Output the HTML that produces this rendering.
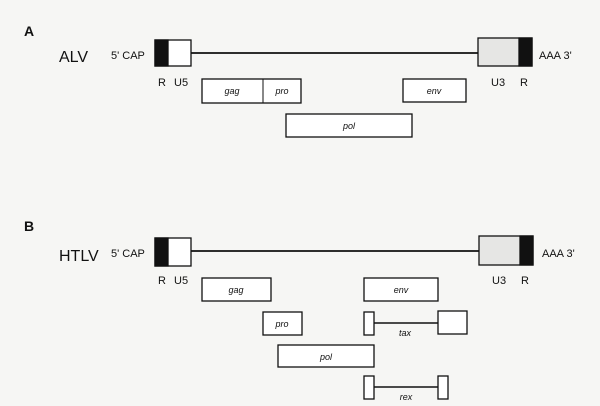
<!DOCTYPE html>
<html><head><style>
html,body{margin:0;padding:0;background:#f6f6f4;}
svg{display:block;font-family:"Liberation Sans",Arial,sans-serif;}
</style></head><body>
<svg width="600" height="406" viewBox="0 0 600 406" xmlns="http://www.w3.org/2000/svg">
<rect width="600" height="406" fill="#f6f6f4"/>
<g stroke="#111" stroke-width="1.3" fill="#fff">
<!-- A -->
<line x1="191" y1="53" x2="478" y2="53" stroke-width="1.8"/>
<rect x="155" y="40" width="36" height="26"/>
<rect x="155" y="40" width="13" height="26" fill="#111"/>
<rect x="478" y="38" width="54" height="28" fill="#e6e6e4"/>
<rect x="519" y="38" width="13" height="28" fill="#111"/>
<rect x="202" y="79" width="99" height="24"/>
<line x1="263" y1="79" x2="263" y2="103" stroke-width="1"/>
<rect x="403" y="79" width="63" height="23"/>
<rect x="286" y="114" width="126" height="23"/>
<!-- B -->
<line x1="191" y1="251" x2="479" y2="251" stroke-width="1.8"/>
<rect x="155" y="238" width="36" height="28"/>
<rect x="155" y="238" width="13" height="28" fill="#111"/>
<rect x="479" y="236" width="54" height="29" fill="#e6e6e4"/>
<rect x="520" y="236" width="13" height="29" fill="#111"/>
<rect x="202" y="278" width="69" height="23"/>
<rect x="364" y="278" width="74" height="23"/>
<rect x="263" y="312" width="39" height="23"/>
<line x1="374" y1="323" x2="438" y2="323" stroke-width="1.6"/>
<rect x="364" y="312" width="10" height="23"/>
<rect x="438" y="311" width="29" height="23"/>
<rect x="278" y="345" width="96" height="22"/>
<line x1="374" y1="387" x2="438" y2="387" stroke-width="1.6"/>
<rect x="364" y="376" width="10" height="23"/>
<rect x="438" y="376" width="10" height="23"/>
</g>
<g fill="#111">
<text x="24" y="36" font-size="14" font-weight="bold">A</text>
<text x="59" y="62" font-size="16">ALV</text>
<text x="111" y="59" font-size="11">5' CAP</text>
<text x="539" y="59" font-size="11">AAA 3'</text>
<text x="158" y="86" font-size="11">R</text>
<text x="174" y="86" font-size="11">U5</text>
<text x="491" y="86" font-size="11">U3</text>
<text x="520" y="86" font-size="11">R</text>
<g font-style="italic" font-size="9" text-anchor="middle">
<text x="232" y="94">gag</text>
<text x="282" y="94">pro</text>
<text x="434" y="94">env</text>
<text x="349" y="129">pol</text>
</g>
<text x="24" y="231" font-size="14" font-weight="bold">B</text>
<text x="59" y="261" font-size="16">HTLV</text>
<text x="111" y="257" font-size="11">5' CAP</text>
<text x="542" y="257" font-size="11">AAA 3'</text>
<text x="158" y="284" font-size="11">R</text>
<text x="174" y="284" font-size="11">U5</text>
<text x="492" y="284" font-size="11">U3</text>
<text x="521" y="284" font-size="11">R</text>
<g font-style="italic" font-size="9" text-anchor="middle">
<text x="236" y="293">gag</text>
<text x="401" y="293">env</text>
<text x="282" y="327">pro</text>
<text x="405" y="336">tax</text>
<text x="326" y="360">pol</text>
<text x="406" y="400">rex</text>
</g>
</g>
</svg>
</body></html>
